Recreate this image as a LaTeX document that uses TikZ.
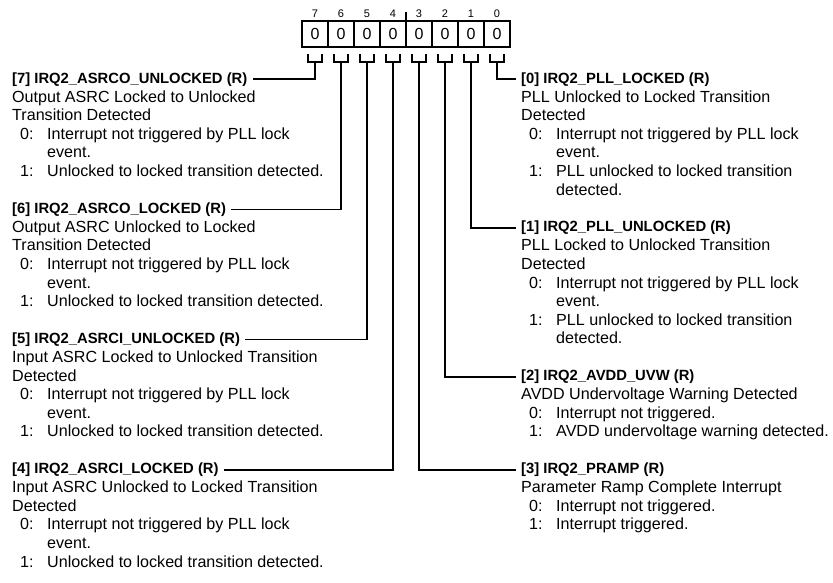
\documentclass[tikz,border=0pt]{standalone}
\usepackage{fontspec}
\setmainfont{Liberation Sans}
\usetikzlibrary{positioning}

\newcommand{\bitval}[2]{\hspace*{8pt}\makebox[27pt][l]{#1}#2}
\newcommand{\wrapline}[1]{\hspace*{35pt}#1}

\begin{document}
\begin{tikzpicture}[
  x=1pt, y=1pt,
  cell/.style={rectangle, draw=black, line width=1.6pt, minimum size=26pt,
               inner sep=0pt, outer sep=0pt, font=\fontsize{16}{18}\selectfont},
  bitnum/.style={font=\fontsize{11}{12}\selectfont, inner sep=0pt},
  wire/.style={line width=1.6pt},
  field/.style={font=\fontsize{14.8}{18.6}\selectfont\bfseries, inner xsep=5pt, inner ysep=0pt},
  desc/.style={font=\fontsize{16.1}{18.6}\selectfont, align=left, inner sep=0pt}
]
\useasboundingbox (0,0) rectangle (833,-582);

% ---- register cells ----
\node[cell] (b7) at (315,-34) {0};
\node[cell, right=0pt of b7] (b6) {0};
\node[cell, right=0pt of b6] (b5) {0};
\node[cell, right=0pt of b5] (b4) {0};
\node[cell, right=0pt of b4] (b3) {0};
\node[cell, right=0pt of b3] (b2) {0};
\node[cell, right=0pt of b2] (b1) {0};
\node[cell, right=0pt of b1] (b0) {0};

% bit numbers
\node[bitnum, above=3pt of b7] (n7) {7};
\node[bitnum, above=3pt of b6] (n6) {6};
\node[bitnum, above=3pt of b5] (n5) {5};
\node[bitnum, above=3pt of b4] (n4) {4};
\node[bitnum, above=3pt of b3] (n3) {3};
\node[bitnum, above=3pt of b2] (n2) {2};
\node[bitnum, above=3pt of b1] (n1) {1};
\node[bitnum, above=3pt of b0] (n0) {0};

% nibble tick
\draw[line width=1.2pt] (b4.north east) -- ++(0,9);

% brackets under the cells
\draw[wire] ([xshift=-7pt,yshift=-7pt]b7.south) -- ++(0,-8) -- ++(14,0) -- ++(0,8);
\draw[wire] ([xshift=-7pt,yshift=-7pt]b6.south) -- ++(0,-8) -- ++(14,0) -- ++(0,8);
\draw[wire] ([xshift=-7pt,yshift=-7pt]b5.south) -- ++(0,-8) -- ++(14,0) -- ++(0,8);
\draw[wire] ([xshift=-7pt,yshift=-7pt]b4.south) -- ++(0,-8) -- ++(14,0) -- ++(0,8);
\draw[wire] ([xshift=-7pt,yshift=-7pt]b3.south) -- ++(0,-8) -- ++(14,0) -- ++(0,8);
\draw[wire] ([xshift=-7pt,yshift=-7pt]b2.south) -- ++(0,-8) -- ++(14,0) -- ++(0,8);
\draw[wire] ([xshift=-7pt,yshift=-7pt]b1.south) -- ++(0,-8) -- ++(14,0) -- ++(0,8);
\draw[wire] ([xshift=-7pt,yshift=-7pt]b0.south) -- ++(0,-8) -- ++(14,0) -- ++(0,8);

% ---- LEFT column: bits 7..4 ----
\node[field, anchor=base west] (t7) at (7,-83) {[7] IRQ2\_ASRCO\_UNLOCKED (R)};
\node[desc, below=4pt of t7.south west, anchor=north west, xshift=5pt] (d7)
  {Output ASRC Locked to Unlocked\\Transition Detected\\
   \bitval{0:}{Interrupt not triggered by PLL lock}\\\wrapline{event.}\\
   \bitval{1:}{Unlocked to locked transition detected.}};

\node[field, anchor=base west] (t6) at (7,-213.2) {[6] IRQ2\_ASRCO\_LOCKED (R)};
\node[desc, below=4pt of t6.south west, anchor=north west, xshift=5pt] (d6)
  {Output ASRC Unlocked to Locked\\Transition Detected\\
   \bitval{0:}{Interrupt not triggered by PLL lock}\\\wrapline{event.}\\
   \bitval{1:}{Unlocked to locked transition detected.}};

\node[field, anchor=base west] (t5) at (7,-343.4) {[5] IRQ2\_ASRCI\_UNLOCKED (R)};
\node[desc, below=4pt of t5.south west, anchor=north west, xshift=5pt] (d5)
  {Input ASRC Locked to Unlocked Transition\\Detected\\
   \bitval{0:}{Interrupt not triggered by PLL lock}\\\wrapline{event.}\\
   \bitval{1:}{Unlocked to locked transition detected.}};

\node[field, anchor=base west] (t4) at (7,-473.6) {[4] IRQ2\_ASRCI\_LOCKED (R)};
\node[desc, below=4pt of t4.south west, anchor=north west, xshift=5pt] (d4)
  {Input ASRC Unlocked to Locked Transition\\Detected\\
   \bitval{0:}{Interrupt not triggered by PLL lock}\\\wrapline{event.}\\
   \bitval{1:}{Unlocked to locked transition detected.}};

% ---- RIGHT column: bits 0..3 ----
\node[field, anchor=base west] (t0) at (516,-83) {[0] IRQ2\_PLL\_LOCKED (R)};
\node[desc, below=4pt of t0.south west, anchor=north west, xshift=5pt] (d0)
  {PLL Unlocked to Locked Transition\\Detected\\
   \bitval{0:}{Interrupt not triggered by PLL lock}\\\wrapline{event.}\\
   \bitval{1:}{PLL unlocked to locked transition}\\\wrapline{detected.}};

\node[field, anchor=base west] (t1) at (516,-231.8) {[1] IRQ2\_PLL\_UNLOCKED (R)};
\node[desc, below=4pt of t1.south west, anchor=north west, xshift=5pt] (d1)
  {PLL Locked to Unlocked Transition\\Detected\\
   \bitval{0:}{Interrupt not triggered by PLL lock}\\\wrapline{event.}\\
   \bitval{1:}{PLL unlocked to locked transition}\\\wrapline{detected.}};

\node[field, anchor=base west] (t2) at (516,-380.6) {[2] IRQ2\_AVDD\_UVW (R)};
\node[desc, below=4pt of t2.south west, anchor=north west, xshift=5pt] (d2)
  {AVDD Undervoltage Warning Detected\\
   \bitval{0:}{Interrupt not triggered.}\\
   \bitval{1:}{AVDD undervoltage warning detected.}};

\node[field, anchor=base west] (t3) at (516,-473.6) {[3] IRQ2\_PRAMP (R)};
\node[desc, below=4pt of t3.south west, anchor=north west, xshift=5pt] (d3)
  {Parameter Ramp Complete Interrupt\\
   \bitval{0:}{Interrupt not triggered.}\\
   \bitval{1:}{Interrupt triggered.}};

% ---- stems from bits to field names ----
\draw[wire] ([yshift=-15pt]b7.south) |- (t7.east);
\draw[wire] ([yshift=-15pt]b6.south) |- (t6.east);
\draw[wire] ([yshift=-15pt]b5.south) |- (t5.east);
\draw[wire] ([yshift=-15pt]b4.south) |- (t4.east);
\draw[wire] ([yshift=-15pt]b3.south) |- (t3.west);
\draw[wire] ([yshift=-15pt]b2.south) |- (t2.west);
\draw[wire] ([yshift=-15pt]b1.south) |- (t1.west);
\draw[wire] ([yshift=-15pt]b0.south) |- (t0.west);

\end{tikzpicture}
\end{document}
